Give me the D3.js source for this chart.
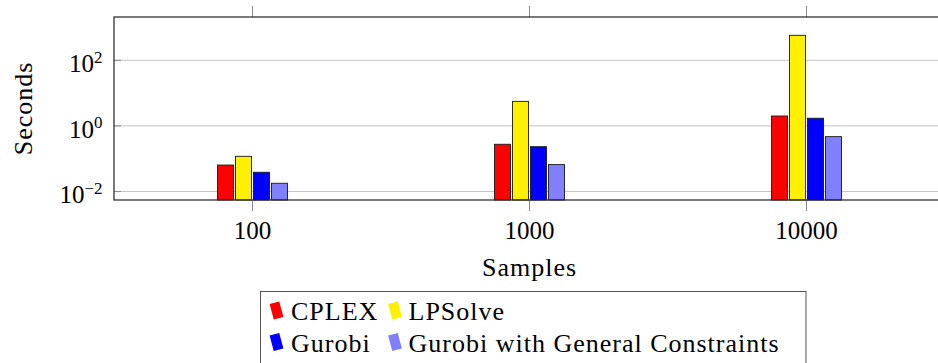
<!DOCTYPE html>
<meta charset="utf-8">
<head>
<style>
body { margin: 0; background: #fff; }
text { font-family: "Liberation Serif", "DejaVu Serif", serif; fill: #000; }
.word { font-size: 26px; letter-spacing: 1px; }
.num { font-size: 25px; }
</style>
</head>
<body>
<script src="https://cdnjs.cloudflare.com/ajax/libs/d3/7.8.5/d3.min.js"></script>
<script>
// ---------------- data ----------------
var samples = ["100", "1000", "10000"];
var solvers = ["CPLEX", "LPSolve", "Gurobi", "Gurobi with General Constraints"];
var cplex   = [0.064, 0.275, 2.0];
var lpsolve = [0.118, 5.6, 578];
var gurobi  = [0.0385, 0.232, 1.71];
var gurobiGC = [0.0178, 0.066, 0.47];
var yTicks = [-2, 0, 2];   // exponents of 10

var colors = ["#ff0000", "#fff000", "#0000ff", "#8080ff"];
var series = [cplex, lpsolve, gurobi, gurobiGC];

// ---------------- layout ----------------
var W = 938, H = 363;
var pLeft = 114, pRight = 945, pTop = 17, pBottom = 200;
var barW = 16, barStep = 18;

var svg = d3.select("body").append("svg")
    .attr("width", W)
    .attr("height", H);

var x = d3.scaleBand().domain(samples).range([pLeft, pRight]).padding(0);
var y = d3.scaleLog().domain([Math.pow(10, -2.26), Math.pow(10, 3.32)]).range([pBottom, pTop]);

// grid lines
svg.append("g").selectAll("line")
    .data(yTicks)
    .enter().append("line")
    .attr("x1", pLeft).attr("x2", pRight)
    .attr("y1", function(d) { return y(Math.pow(10, d)); })
    .attr("y2", function(d) { return y(Math.pow(10, d)); })
    .attr("stroke", "#c4c4c4")
    .attr("stroke-width", 1);

// y tick marks
svg.append("g").selectAll("line")
    .data(yTicks)
    .enter().append("line")
    .attr("x1", pLeft).attr("x2", pLeft + 7)
    .attr("y1", function(d) { return y(Math.pow(10, d)); })
    .attr("y2", function(d) { return y(Math.pow(10, d)); })
    .attr("stroke", "#8a8a8a")
    .attr("stroke-width", 1);

// y tick labels 10^k
var yl = svg.append("g").selectAll("text")
    .data(yTicks)
    .enter().append("text")
    .attr("class", "num")
    .attr("x", 102.5)
    .attr("y", function(d) { return y(Math.pow(10, d)) + 12; })
    .attr("text-anchor", "end");
yl.append("tspan").text("10");
yl.append("tspan")
    .attr("dy", -9.5)
    .style("font-size", "17px")
    .text(function(d) { return d < 0 ? "\u2212" + (-d) : "" + d; });

// bars
samples.forEach(function(s, j) {
    series.forEach(function(vals, i) {
        var cx = x(s) + x.bandwidth() / 2 + (i - 1.5) * barStep;
        svg.append("rect")
            .attr("x", cx - barW / 2)
            .attr("y", y(vals[j]))
            .attr("width", barW)
            .attr("height", pBottom - y(vals[j]))
            .attr("fill", colors[i])
            .attr("stroke", "#1a1a1a")
            .attr("stroke-width", 0.9);
    });
});

// x ticks (outside, top and bottom)
samples.forEach(function(s) {
    var cx = x(s) + x.bandwidth() / 2;
    svg.append("line").attr("x1", cx).attr("x2", cx).attr("y1", pTop - 11).attr("y2", pTop)
        .attr("stroke", "#8a8a8a");
    svg.append("line").attr("x1", cx).attr("x2", cx).attr("y1", pBottom).attr("y2", pBottom + 11)
        .attr("stroke", "#8a8a8a");
    svg.append("text")
        .attr("class", "num")
        .attr("x", cx)
        .attr("y", 239)
        .attr("text-anchor", "middle")
        .text(s);
});

// frame
svg.append("rect")
    .attr("x", pLeft).attr("y", pTop)
    .attr("width", pRight - pLeft).attr("height", pBottom - pTop)
    .attr("fill", "none")
    .attr("stroke", "#222")
    .attr("stroke-width", 1.2);

// axis labels
svg.append("text")
    .attr("class", "word")
    .attr("x", (pLeft + pRight) / 2)
    .attr("y", 276)
    .attr("text-anchor", "middle")
    .text("Samples");

svg.append("text")
    .attr("class", "word")
    .attr("transform", "translate(32,108.5) rotate(-90)")
    .attr("text-anchor", "middle")
    .text("Seconds");

// legend
svg.append("rect")
    .attr("x", 260.5).attr("y", 291.5)
    .attr("width", 806 - 260.5).attr("height", 90)
    .attr("fill", "#fff")
    .attr("stroke", "#555")
    .attr("stroke-width", 1);

var legPos = [[276.5, 310.5, 291], [395, 310.5, 408.5], [276.5, 342, 291], [395, 342, 408.5]];
solvers.forEach(function(name, i) {
    var p = legPos[i];
    svg.append("rect")
        .attr("x", -5).attr("y", -8)
        .attr("width", 10).attr("height", 16)
        .attr("transform", "translate(" + p[0] + "," + p[1] + ") rotate(-15)")
        .attr("fill", colors[i]);
    svg.append("text")
        .attr("class", "word")
        .attr("x", p[2])
        .attr("y", p[1] + 9.5)
        .text(name);
});
</script>
</body>
</html>
